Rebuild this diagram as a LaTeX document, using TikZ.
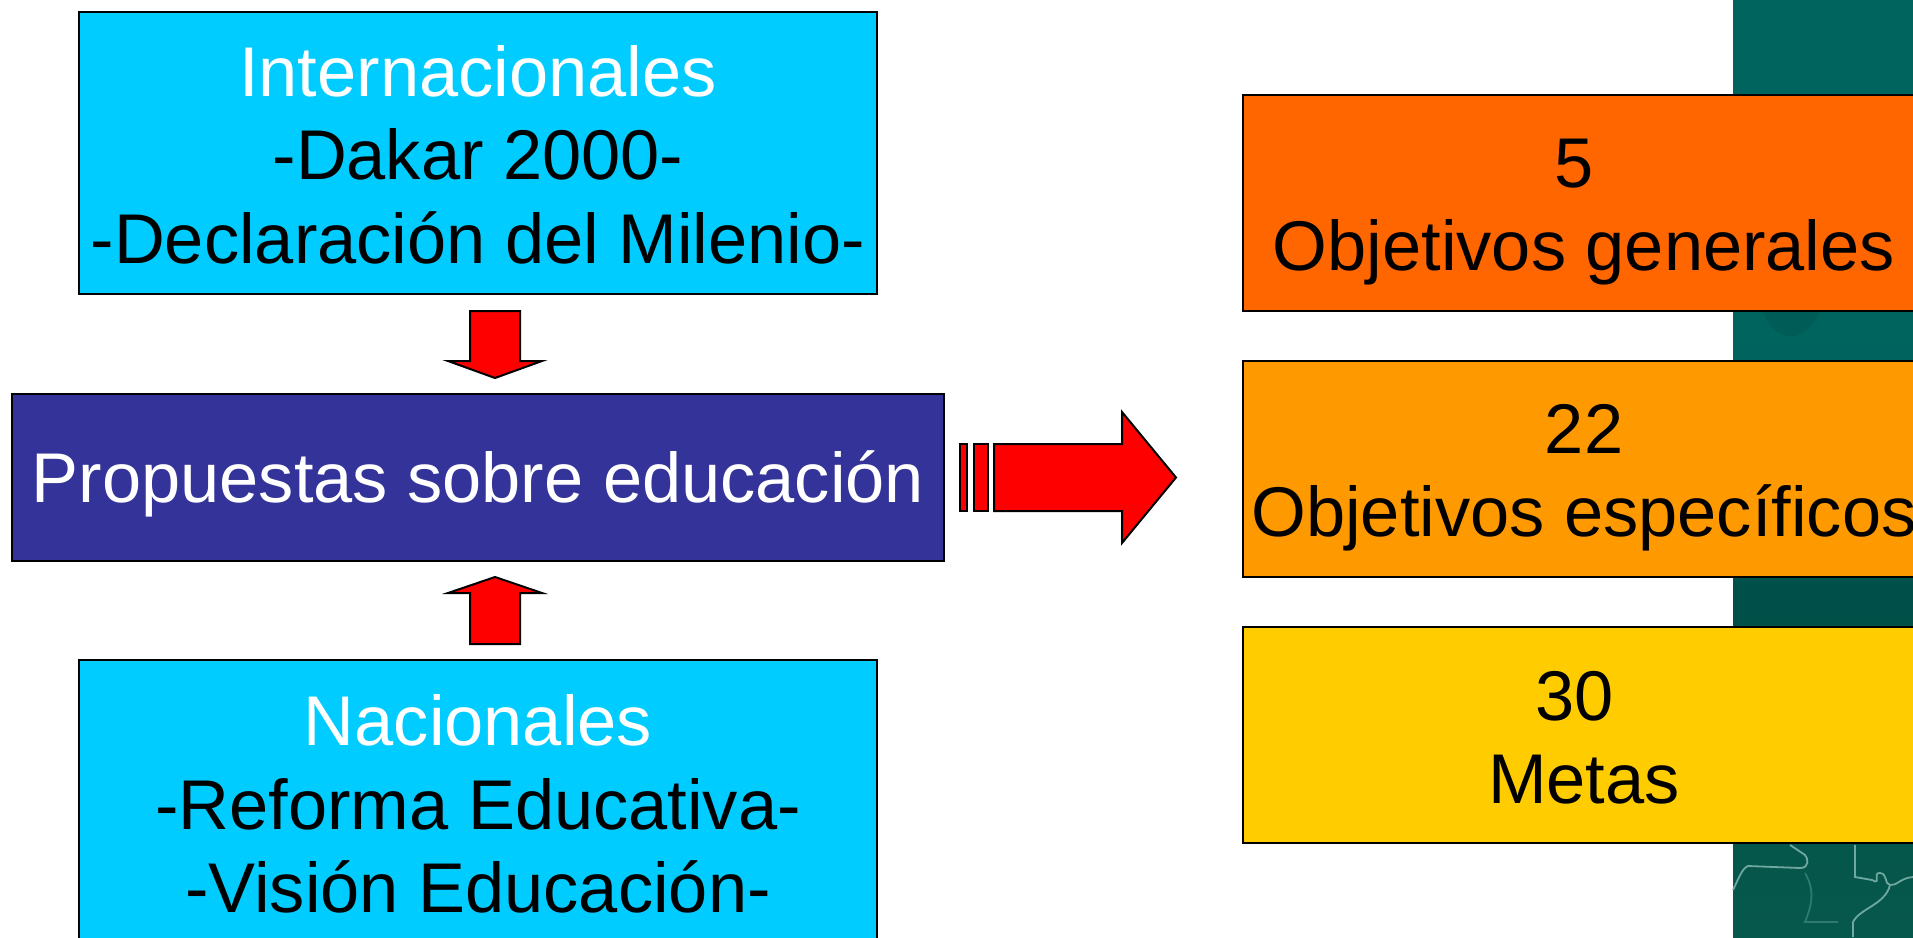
\documentclass[tikz,border=0pt]{standalone}
\usepackage{fontspec}
\setmainfont{Liberation Sans}
\definecolor{celeste}{HTML}{00CCFF}
\definecolor{indigo}{HTML}{333399}
\definecolor{naranja}{HTML}{FF6600}
\definecolor{ambar}{HTML}{FF9900}
\definecolor{oro}{HTML}{FFCC00}
\definecolor{verdetop}{HTML}{00645E}
\definecolor{verdemed}{HTML}{004F48}
\definecolor{verdebot}{HTML}{07584C}
\definecolor{mapa}{HTML}{6FA8A0}
\definecolor{mapatenue}{HTML}{2F7A6E}
\begin{document}
\begin{tikzpicture}[
  x = 1pt, y = -1pt,
  every node/.style = {draw, line width = 2pt, align = flush center, inner sep = 0pt,
    font = \fontsize{70.4}{83.5}\selectfont},
  fuente/.style = {minimum width = 798pt, fill = celeste},
  propuesta/.style = {minimum width = 932pt, minimum height = 167pt, fill = indigo, text = white},
  cifra/.style = {minimum width = 682pt, minimum height = 216pt},
  flecha/.style = {draw, fill = red, line width = 2pt},
  trazo/.style = {mapa, line width = 1.8pt},
  tenue/.style = {mapatenue, line width = 1.8pt}
  ]
  \useasboundingbox (0,0) rectangle (1913,937);

  %map band
  \fill[verdetop] (1733,0) rectangle (1913,340);
  \fill[top color = verdetop, bottom color = verdemed] (1733,340) rectangle (1913,600);
  \fill[top color = verdemed, bottom color = verdebot] (1733,600) rectangle (1913,937);
  \fill[verdemed, opacity = .35] (1763,311) .. controls (1775,345) and (1805,345) .. (1820,311) -- cycle;
  \draw[tenue] (1805,873) .. controls (1815,890) and (1812,905) .. (1805,922) -- (1838,922);
  \draw[trazo] (1733,890) .. controls (1738,880) and (1742,868) .. (1748,866) -- (1800,868) .. controls (1810,868) and (1808,858) .. (1805,855) -- (1790,845);
  \draw[trazo] (1855,845) -- (1855,877) -- (1872,880) .. controls (1882,886) and (1872,872) .. (1880,873) .. controls (1888,874) and (1884,884) .. (1890,885) .. controls (1897,886) and (1900,878) .. (1913,877);
  \draw[trazo] (1853,937) -- (1853,922) .. controls (1860,908) and (1885,905) .. (1890,885);

  %source boxes
  \node[fuente, minimum height = 282pt] (internacionales) at (478,153)
    {\rule{0pt}{54pt}\textcolor{white}{Internacionales}\\-Dakar 2000-\\-Declaración del Milenio-};
  \node[propuesta] (propuestas) at (478,477.5) {\rule{0pt}{64pt}Propuestas sobre educación};
  \node[fuente, minimum height = 288pt] (nacionales) at (478,804)
    {\textcolor{white}{Nacionales}\\-Reforma Educativa-\\-Visión Educación-};

  %result boxes
  \node[cifra, fill = naranja] (generales) at (1584,203) {\rule{0pt}{67pt}5\hspace*{19pt}\\Objetivos generales};
  \node[cifra, fill = ambar] (especificos) at (1584,469) {\rule{0pt}{67pt}22\\Objetivos específicos};
  \node[cifra, fill = oro] (metas) at (1584,735) {\rule{0pt}{55pt}30\hspace*{19pt}\\Metas};

  %arrows
  \draw[flecha] (470,311) -- (520,311) -- (520,361) -- (542,361) -- (495,378) -- (448,361) -- (470,361) -- cycle;
  \draw[flecha] (470,644) -- (520,644) -- (520,593) -- (542,593) -- (495,577) -- (448,593) -- (470,593) -- cycle;
  \draw[flecha] (960,444) rectangle (967,511);
  \draw[flecha] (974,444) rectangle (988,511);
  \draw[flecha] (994,444) -- (1122,444) -- (1122,412) -- (1176,477.5) -- (1122,543) -- (1122,511) -- (994,511) -- cycle;
\end{tikzpicture}
\end{document}
